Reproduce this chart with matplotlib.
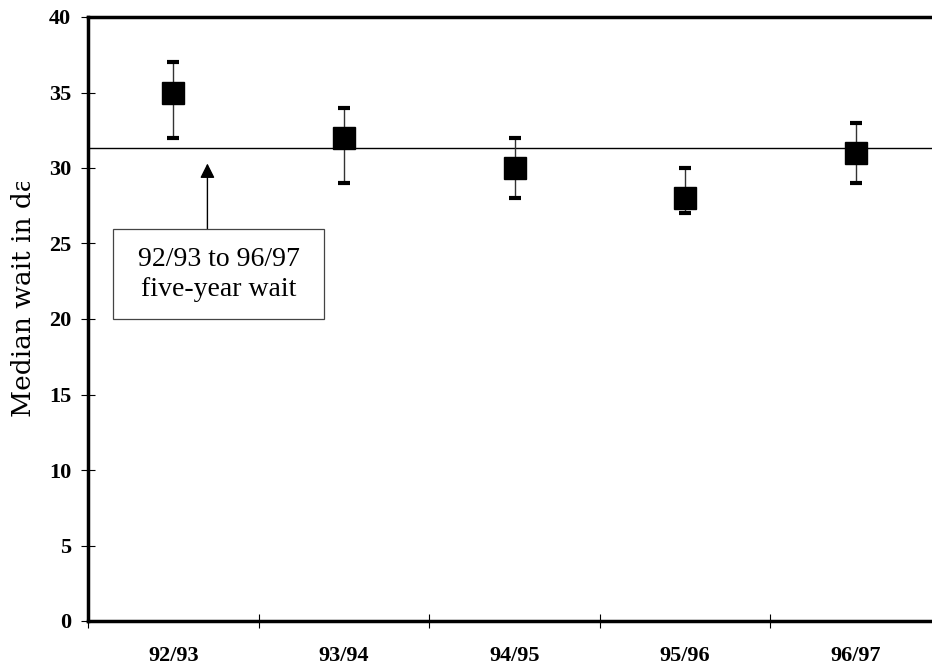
import matplotlib
matplotlib.use("Agg")
import matplotlib.pyplot as plt
from matplotlib.transforms import Bbox
from matplotlib.patches import Rectangle

categories = ["92/93", "93/94", "94/95", "95/96", "96/97"]
medians = [35, 32, 30, 28, 31]
lower = [32, 29, 28, 27, 29]
upper = [37, 34, 32, 30, 33]
five_year_wait = 31.3
y_ticks = [0, 5, 10, 15, 20, 25, 30, 35, 40]

plt.rcParams['font.family'] = ['Liberation Serif', 'DejaVu Serif']

W, H = 932, 667
fig = plt.figure(figsize=(W / 100, H / 100), dpi=100)
left, right, top, bottom = 88, 941, 17, 621
ax = fig.add_axes([left / W, 1 - bottom / H, (right - left) / W, (bottom - top) / H])

xpos = [i + 0.5 for i in range(len(categories))]
yerr = [[m - l for m, l in zip(medians, lower)], [u - m for m, u in zip(medians, upper)]]
ax.errorbar(xpos, medians, yerr=yerr, fmt='none', ecolor='#333333', elinewidth=1.0,
            capsize=0, zorder=3)
ax.plot(xpos, lower, linestyle='none', marker='_', markersize=9, markeredgewidth=3,
        color='black', zorder=4)
ax.plot(xpos, upper, linestyle='none', marker='_', markersize=9, markeredgewidth=3,
        color='black', zorder=4)
ax.plot(xpos, medians, linestyle='none', marker='s', markersize=16, color='black', zorder=5)

ax.axhline(five_year_wait, color='black', linewidth=1.0, zorder=2)

ax.set_xlim(0, len(categories))
ax.set_ylim(0, 40)
ax.set_yticks(y_ticks)
ax.set_yticklabels([str(v) for v in y_ticks], fontsize=16, fontweight='bold')
ax.set_xticks(range(len(categories) + 1))
ax.set_xticklabels([''] * (len(categories) + 1))
ax.set_xticks(xpos, minor=True)
ax.set_xticklabels(categories, minor=True, fontsize=16, fontweight='bold')
ax.tick_params(axis='x', which='minor', length=0, pad=18)
ax.tick_params(axis='both', which='major', direction='inout', length=10, width=0.8)
ax.tick_params(axis='y', pad=7)

for s in ['left', 'bottom', 'top']:
    ax.spines[s].set_linewidth(2.5)
ax.spines['right'].set_visible(False)

# arrow
ax.annotate("", xy=(0.70, 30.3), xytext=(0.70, 25.96),
            arrowprops=dict(arrowstyle='-|>', color='black', lw=1.0, mutation_scale=22,
                            shrinkA=0, shrinkB=0), zorder=4)
# box
ax.add_patch(Rectangle((0.147, 20.0), 1.236, 5.96, facecolor='white',
                       edgecolor='#444444', linewidth=0.9, zorder=4))
ax.text(0.765, 22.95, "92/93 to 96/97\nfive-year wait", ha='center', va='center',
        fontsize=20, linespacing=1.25, zorder=5)

# clipped y label
t = fig.text(24 / W, 1 - 417 / H, "Median wait in days", rotation=90, ha='center',
             va='bottom', fontsize=19, family='DejaVu Serif')
t.set_clip_box(Bbox.from_extents(0, 0, 200, H - 182))
t.set_clip_on(True)

fig.savefig("out.png", dpi=100)
